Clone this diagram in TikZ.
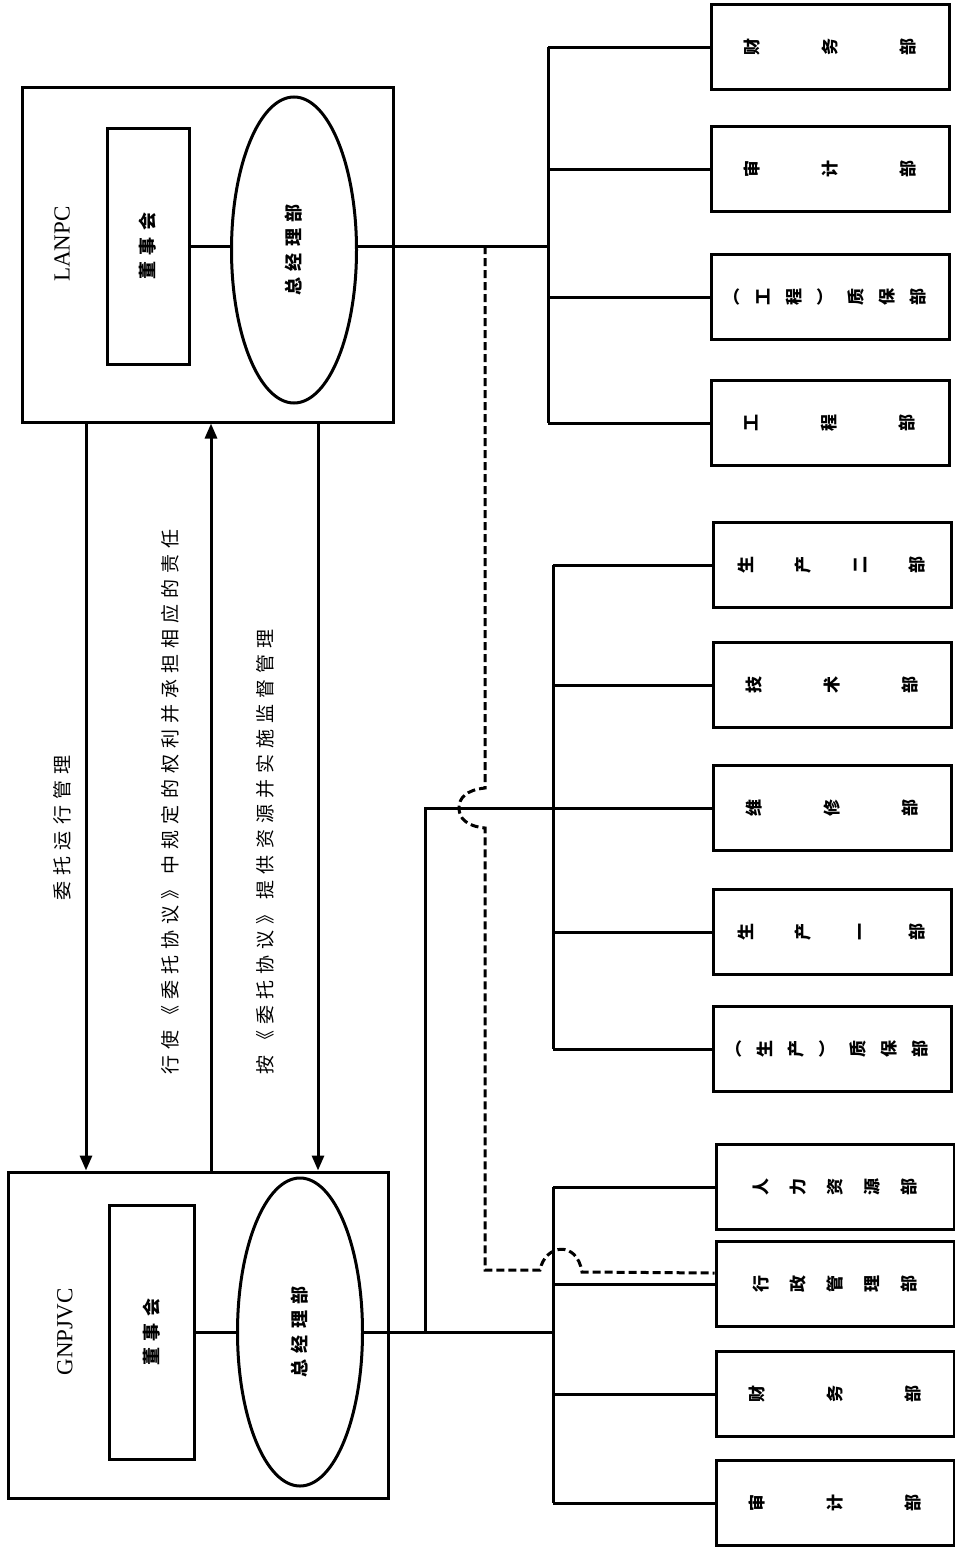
\documentclass[tikz,border=0pt]{standalone}
\usepackage{fontspec}
\setmainfont{Liberation Serif}
\newfontfamily\cjk{Noto Sans CJK SC}
\newfontfamily\cjkwide{Noto Sans CJK SC}[LetterSpace=32]
\newfontfamily\cjkboard{Noto Sans CJK SC}[LetterSpace=34]
\usetikzlibrary{shapes.geometric,arrows.meta}
\tikzset{
  orgbox/.style={draw, line width=3pt, inner sep=0pt},
  boardbox/.style={draw, line width=3pt, rotate=90, inner sep=0pt, font=\cjkboard\bfseries\fontsize{18}{18}\selectfont},
  mgrell/.style={draw, ellipse, line width=3pt, rotate=90, inner sep=0pt, minimum height=125pt, font=\cjkboard\bfseries\fontsize{18}{18}\selectfont},
  deptbox/.style={draw, line width=3pt, rotate=90, inner sep=0pt, minimum width=85pt, minimum height=238pt, align=center, font=\cjk\bfseries\fontsize{17}{#1}\selectfont},
  corp/.style={rotate=90, font=\fontsize{23}{23}\selectfont},
  note/.style={rotate=90, font=\cjkwide\fontsize{19}{19}\selectfont},
  link/.style={line width=3pt},
  duty/.style={line width=3pt, -{Triangle[length=15pt,width=12pt]}},
  dotlink/.style={line width=3pt, dash pattern=on 8pt off 4pt}
}
\begin{document}
\begin{tikzpicture}[x=1pt,y=-1pt]
  \useasboundingbox (0,0) rectangle (955,1547);
  % LANPC
  \node[orgbox, minimum width=371pt, minimum height=335pt] (lanpc) at (207.5,254.5) {};
  \node[corp] (lanpclbl) at (62,244) {LANPC};
  \node[boardbox, minimum width=236pt, minimum height=82pt] (lboard) at (148,246) {董事会};
  \node[mgrell, minimum width=306pt] (lmgr) at (294,250) {总经理部};
  % GNPJVC
  \node[orgbox, minimum width=380pt, minimum height=326pt] (gnpjvc) at (198,1335) {};
  \node[corp] (gnpjvclbl) at (65,1332) {GNPJVC};
  \node[boardbox, minimum width=254pt, minimum height=85pt] (gboard) at (152,1332) {董事会};
  \node[mgrell, minimum width=308pt] (gmgr) at (300,1332) {总经理部};
  % departments (rotated: .north faces left)
  \node[deptbox=78] (lfin)  at (830,47)  {财\\务\\部};
  \node[deptbox=78] (laud)  at (830,169) {审\\计\\部};
  \node[deptbox=31] (lqa)   at (830,297) {︵\\工\\程\\︶\\质\\保\\部};
  \node[deptbox=78] (leng)  at (830,423) {工\\程\\部};
  \node[deptbox=57] (prod2) at (832,565) {生\\产\\二\\部};
  \node[deptbox=78] (tech)  at (832,685) {技\\术\\部};
  \node[deptbox=78] (maint) at (832,808) {维\\修\\部};
  \node[deptbox=57] (prod1) at (832,932) {生\\产\\一\\部};
  \node[deptbox=31] (pqa)   at (832,1049) {︵\\生\\产\\︶\\质\\保\\部};
  \node[deptbox=37] (hr)    at (835,1187) {人\\力\\资\\源\\部};
  \node[deptbox=37] (admin) at (835,1284) {行\\政\\管\\理\\部};
  \node[deptbox=78] (gfin)  at (835,1394) {财\\务\\部};
  \node[deptbox=78] (gaud)  at (835,1503) {审\\计\\部};
  % agreements between the two companies
  \coordinate (a1) at (86,0);
  \coordinate (a2) at (211,0);
  \coordinate (a3) at (318,0);
  \draw[duty] (lanpc.south -| a1) -- (gnpjvc.north -| a1);
  \draw[duty] (gnpjvc.north -| a2) -- (lanpc.south -| a2);
  \draw[duty] (lanpc.south -| a3) -- (gnpjvc.north -| a3);
  \node[note] (lbl1) at (62,828) {委托运行管理};
  \node[note] (lbl2) at (170,802) {行使《委托协议》中规定的权利并承担相应的责任};
  \node[note] (lbl3) at (265,852) {按《委托协议》提供资源并实施监督管理};
  % LANPC departments
  \coordinate (ltap) at (548,246);
  \draw[link] (lboard) -- (lboard -| lmgr.north);
  \draw[link] (lboard -| lmgr.south) -- (ltap);
  \draw[link] (ltap |- lfin) -- (ltap |- leng);
  \foreach \d in {lfin,laud,lqa,leng}
    \draw[link] (ltap |- \d) -- (\d);
  % GNPJVC departments
  \coordinate (gtap) at (553,1332);
  \coordinate (gjoin) at (425,1332);
  \draw[link] (gboard) -- (gmgr);
  \draw[link] (gmgr) -- (gtap);
  \draw[link] (gtap |- hr) -- (gtap |- gaud);
  \foreach \d in {hr,admin,gfin,gaud}
    \draw[link] (gtap |- \d) -- (\d);
  \draw[link] (gjoin) |- (maint);
  \draw[link] (gtap |- prod2) -- (gtap |- pqa);
  \foreach \d in {prod2,tech,prod1,pqa}
    \draw[link] (gtap |- \d) -- (\d);
  % dotted link to administration
  \coordinate (dtop) at (485,246);
  \draw[dotlink] (dtop) -- (485,788)
    .. controls (466,790) and (459,798) .. (459,808)
    .. controls (459,818) and (466,826) .. (485,828)
    -- (485,1270) -- (540,1270)
    .. controls (545,1244) and (577,1240) .. (582,1272)
    -- ([yshift=11pt]admin.north);
\end{tikzpicture}
\end{document}
